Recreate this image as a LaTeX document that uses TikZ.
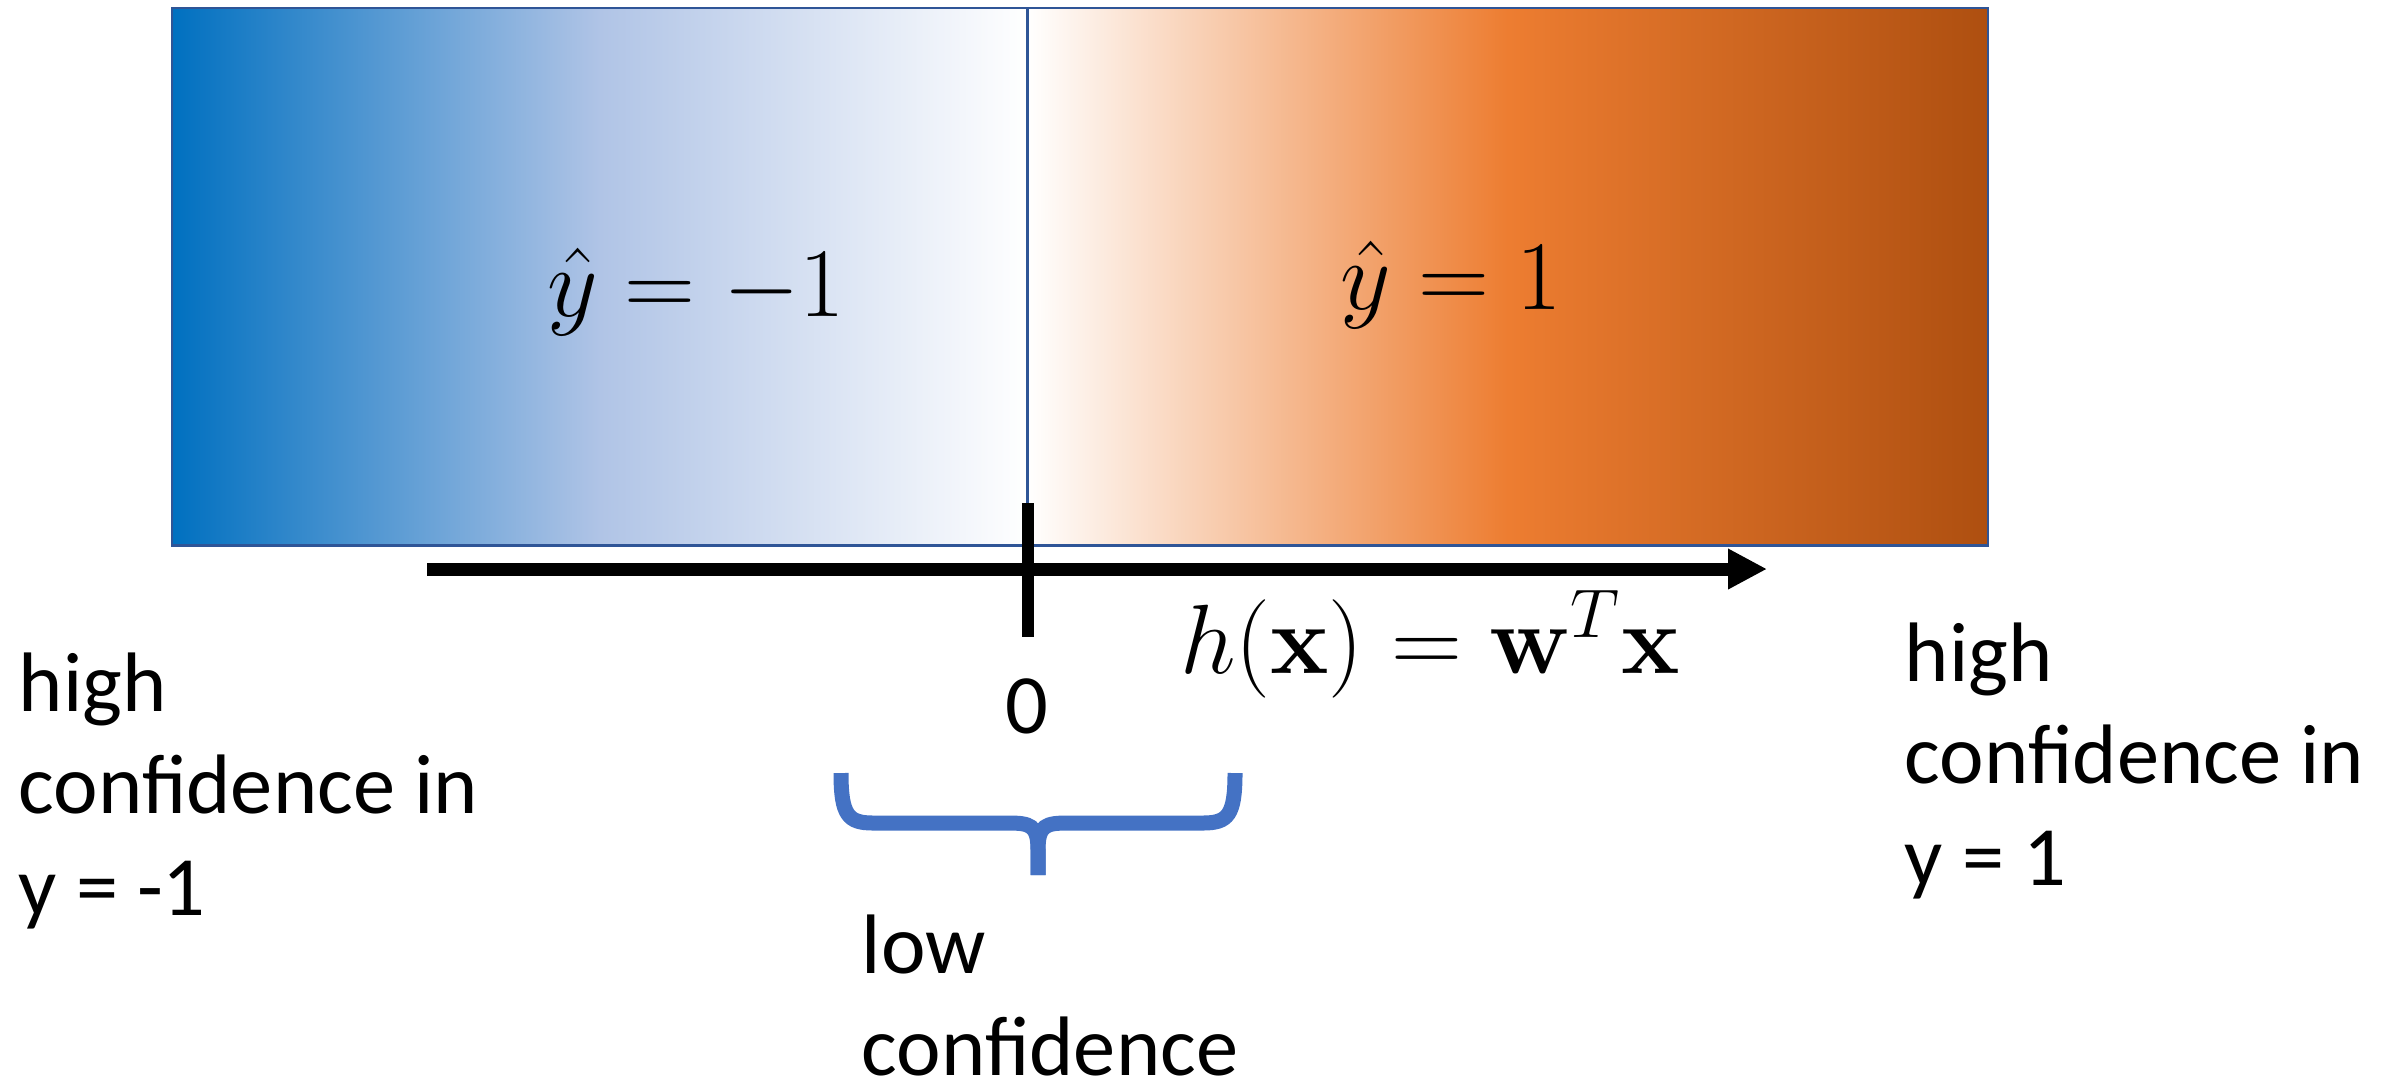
\documentclass[tikz,border=0pt]{standalone}
\usepackage{fix-cm}
\usepackage{amsmath,amssymb}
\usepackage[no-math]{fontspec}
\setmainfont{Carlito}
\usepackage{xcolor}
\usepackage{tikz}
\usetikzlibrary{arrows.meta,positioning}
\definecolor{negcolor}{HTML}{0070C0}
\definecolor{neglight}{HTML}{B0C4E6}
\definecolor{poscolor}{HTML}{ED7D31}
\definecolor{posdark}{HTML}{AE4F10}
\definecolor{edgecolor}{HTML}{2F5597}
\definecolor{bracecolor}{HTML}{4472C4}

\begin{document}
\begin{tikzpicture}[
    x=0.01cm, y=-0.01cm,
    region/.style={draw=edgecolor, line width=0.7pt, minimum height=5.37cm,
                   inner sep=0pt, outer sep=0pt},
    axisarr/.style={-{Triangle[length=0.39cm, width=0.38cm]}, line width=0.13cm},
    tickmark/.style={line width=0.12cm},
    bracestroke/.style={draw=bracecolor, line width=0.15cm},
    mathlabel/.style={font=\fontsize{28}{34}\selectfont, inner sep=0pt},
    conftext/.style={font=\fontsize{24}{29}\selectfont, align=left, inner sep=0pt}
]
\useasboundingbox (0,0) rectangle (2392,1081);

% Prediction regions
\node[region, minimum width=8.55cm, anchor=north west,
      left color=negcolor, right color=white, middle color=neglight] (neg) at (172,8) {};
\node[region, minimum width=9.6cm, right=0pt of neg,
      left color=white, right color=posdark, middle color=poscolor] (pos) {};

\node[mathlabel, anchor=base] (negy) at (696,316) {$\hat{y} = -1$};
\node[mathlabel, anchor=base] (posy) at (1451,309) {$\hat{y} = 1$};

% Axis of the score
\coordinate (axl) at (427,569);
\coordinate (axr) at (1767,569);
\draw[axisarr] (axl) -- (axr);
\coordinate (ticktop) at (1027.5,503);
\coordinate (tickbot) at (1027.5,637);
\draw[tickmark] (ticktop) -- (tickbot);

\node[conftext, anchor=base] (zero) at (1027,733) {0};
\node[mathlabel, anchor=base] (score) at (1430,673) {$h(\mathbf{x}) = \mathbf{w}^T\mathbf{x}$};

% Confidence labels (base = last line)
\node[conftext, anchor=base west] (lefthigh) at (18,915) {high\\confidence in\\y = -1};
\node[conftext, anchor=base west] (righthigh) at (1904,885) {high\\confidence in\\y = 1};

% Brace round zero
\coordinate (bracel) at (841,773);
\coordinate (bracer) at (1235,773);
\coordinate (bracetip) at (1038,875);
\draw[bracestroke] (bracel) .. controls +(0,42) and +(-25,0) .. ++(32,50)
    -- (1008,823) .. controls +(22,0) and +(0,-25) .. (1038,850) -- (bracetip);
\draw[bracestroke] (bracer) .. controls +(0,42) and +(25,0) .. ++(-32,50)
    -- (1068,823) .. controls +(-22,0) and +(0,-25) .. (1038,850) -- (bracetip);

\node[conftext, anchor=base west] (low) at (861,1075) {low\\confidence};

\end{tikzpicture}
\end{document}
